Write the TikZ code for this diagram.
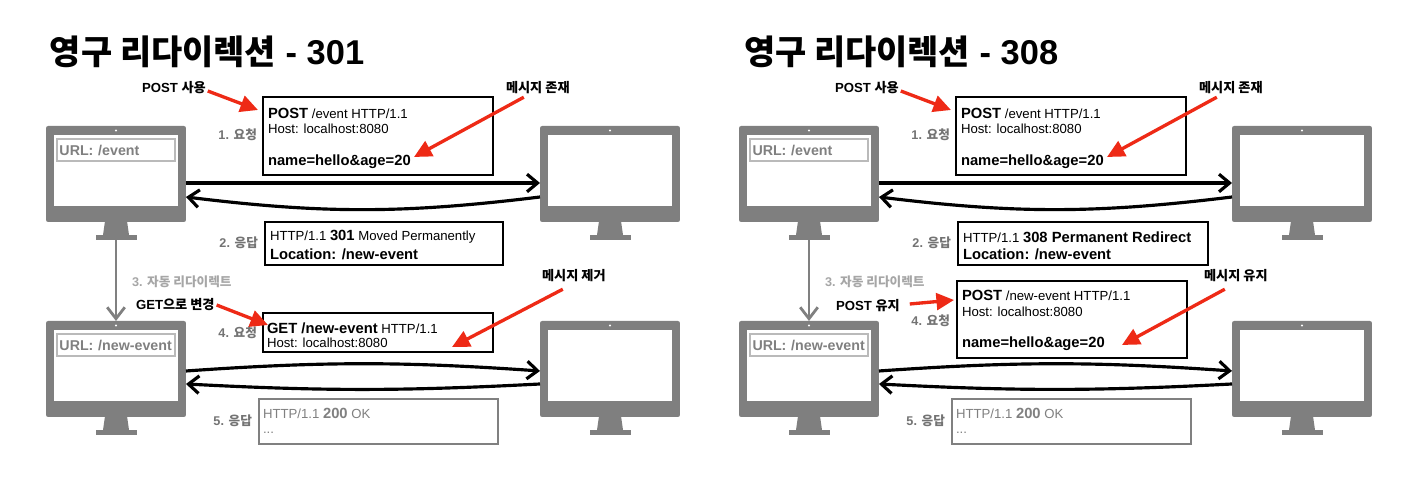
\documentclass[tikz,border=0pt]{standalone}
\usepackage{fontspec}
\setmainfont{Liberation Sans}
\newfontfamily\kr{Noto Sans CJK KR}
\usetikzlibrary{arrows.meta, positioning}
\definecolor{monitorgray}{HTML}{7F7F7F}
\definecolor{arrowred}{HTML}{EE2A16}
\tikzset{
	x=0.02cm, y=-0.02cm, % one unit is one pixel of the reference
	every node/.style={inner sep=0pt, outer sep=0pt},
	title/.style={anchor=west, font=\bfseries\fontsize{19.6}{20}\selectfont},
	note/.style={font=\bfseries\fontsize{7.5}{8}\selectfont},
	steplabel/.style={font=\bfseries\fontsize{7.2}{8}\selectfont, text=black!55},
	msgbox/.style={draw=black, line width=1.5pt, fill=white, anchor=north west},
	graybox/.style={draw=black!50, line width=1.5pt, fill=white, anchor=north west},
	msgline/.style={anchor=west, font=\fontsize{7.5}{8}\selectfont},
	big/.style={font=\bfseries\fontsize{8.4}{9}\selectfont},
	flow/.style={-{Straight Barb[length=6pt,width=10pt,line width=1.8pt]}, line width=1.8pt, black},
	redarrow/.style={-{Triangle[length=10pt,width=9.5pt]}, line width=1.9pt, arrowred},
	redirect/.style={-{Straight Barb[length=6.5pt,width=10pt,line width=1.6pt]}, line width=1.5pt, black!50},
	monitor/.pic={
		\fill[monitorgray] (-11,95) -- (11,95) -- (13,109) -- (-13,109) -- cycle;
		\fill[monitorgray] (-20.5,109) rectangle (20.5,114);
		\node[fill=monitorgray, rounded corners=1.2pt, minimum width=2.8cm, minimum height=1.92cm, anchor=north] (-body) at (0,0) {};
		\node[fill=white, minimum width=2.5cm, minimum height=1.42cm, anchor=north] (-screen) at (0,9) {};
		\fill[white] (0,4.5) circle (0.6pt);
	},
	urlbox/.style={draw=black!27, line width=0.9pt, fill=white, inner xsep=0.05cm, text width=2.26cm, minimum height=0.44cm,
		text=black!50, font=\bfseries\fontsize{8.1}{9}\selectfont, anchor=west, align=left},
}
\begin{document}
\begin{tikzpicture}
	\useasboundingbox (0,0) rectangle (1418,496);
	% left panel
	\node[title] (titleA) at (50,52) {{\kr\fontsize{19.3}{20}\selectfont 영구 리다이렉션} - 301};
	\pic (pcA) at (116,126) {monitor};
	\pic (srvA) at (610,126) {monitor};
	\pic (pcB) at (116,321) {monitor};
	\pic (srvB) at (610,321) {monitor};
	\node[urlbox] (urlA) at (57,150) {URL: /event};
	\node[urlbox] (urlB) at (57,345) {URL: /new-event};
	\node[msgbox, minimum width=4.6cm, minimum height=1.56cm] (reqA) at (263,97) {};
	\node[msgline] at (268,113) {\textbf{\fontsize{8.4}{9}\selectfont POST} /event HTTP/1.1};
	\node[msgline] at (268,129) {Host: localhost:8080};
	\node[msgline, big] at (268,162) {name=hello\&age=20};
	\node[msgbox, minimum width=4.76cm, minimum height=0.86cm] (resA) at (265,222) {};
	\node[msgline] at (270,237) {HTTP/1.1 \textbf{\fontsize{8.4}{9}\selectfont 301} Moved Permanently};
	\node[msgline, big] at (270,254) {Location: /new-event};
	\node[msgbox, minimum width=4.6cm, minimum height=0.78cm] (reqB) at (263,313) {};
	\node[msgline] at (267,328) {{\bfseries\fontsize{8.4}{9}\selectfont GET /new-event} HTTP/1.1};
	\node[msgline] at (267,343) {Host: localhost:8080};
	\node[graybox, minimum width=4.78cm, minimum height=0.9cm] (resB) at (259,399) {};
	\node[msgline, text=black!50] at (263,413) {HTTP/1.1 \textbf{\fontsize{8.4}{9}\selectfont 200} OK};
	\node[msgline, text=black!50] at (263,433) {...};
	\node[steplabel, anchor=east] at (257,135) {1. {\kr 요청}};
	\node[steplabel, anchor=east] at (258,243) {2. {\kr 응답}};
	\node[steplabel, anchor=west, text=black!35] at (132,282) {3. {\kr 자동 리다이렉트}};
	\node[steplabel, anchor=east] at (257,333) {4. {\kr 요청}};
	\node[steplabel, anchor=east] at (252,421) {5. {\kr 응답}};
	\node[note, anchor=west] (useA) at (142,88) {POST {\kr 사용}};
	\node[note, anchor=west] (keepA) at (506,88) {{\kr 메시지 존재}};
	\node[note, anchor=west] (getA) at (136,305) {GET{\kr 으로 변경}};
	\node[note, anchor=west] (dropA) at (542,276) {{\kr 메시지 제거}};
	\coordinate (useAend) at (258,110);
	\coordinate (keepAend) at (414,157);
	\coordinate (getAend) at (268,325);
	\coordinate (dropAend) at (452,347);
	\draw[flow] ([yshift=-0.18cm]pcA-body.east) -- ([yshift=-0.18cm]srvA-body.west);
	\draw[flow] ([yshift=-0.46cm]srvA-body.west) to[bend left=7] ([yshift=-0.46cm]pcA-body.east);
	\draw[flow] ([yshift=-0.04cm]pcB-body.east) to[bend left=4] ([yshift=-0.04cm]srvB-body.west);
	\draw[flow] ([yshift=-0.3cm]srvB-body.west) to[bend left=3] ([yshift=-0.3cm]pcB-body.east);
	\draw[redirect] (pcA-body.south |- 0,240) -- (pcB-body.north);
	\draw[redarrow] (useA.east) ++(2,3) -- (useAend);
	\draw[redarrow] (keepA.south) ++(-14,3) -- (keepAend);
	\draw[redarrow] (getA.east) ++(2,0) -- (getAend);
	\draw[redarrow] (dropA.south) ++(-11,7) -- (dropAend);
	% right panel
	\node[title] (titleC) at (744,52) {{\kr\fontsize{19.3}{20}\selectfont 영구 리다이렉션} - 308};
	\pic (pcC) at (809,126) {monitor};
	\pic (srvC) at (1302,126) {monitor};
	\pic (pcD) at (809,321) {monitor};
	\pic (srvD) at (1302,321) {monitor};
	\node[urlbox] (urlC) at (750,150) {URL: /event};
	\node[urlbox] (urlD) at (750,345) {URL: /new-event};
	\node[msgbox, minimum width=4.6cm, minimum height=1.56cm] (reqC) at (956,97) {};
	\node[msgline] at (961,113) {\textbf{\fontsize{8.4}{9}\selectfont POST} /event HTTP/1.1};
	\node[msgline] at (961,129) {Host: localhost:8080};
	\node[msgline, big] at (961,162) {name=hello\&age=20};
	\node[msgbox, minimum width=5cm, minimum height=0.86cm] (resC) at (958,222) {};
	\node[msgline] at (963,237) {HTTP/1.1 {\bfseries\fontsize{8.4}{9}\selectfont 308 Permanent Redirect}};
	\node[msgline, big] at (963,254) {Location: /new-event};
	\node[msgbox, minimum width=4.6cm, minimum height=1.54cm] (reqD) at (957,281) {};
	\node[msgline] at (962,295) {\textbf{\fontsize{8.4}{9}\selectfont POST} /new-event HTTP/1.1};
	\node[msgline] at (962,312) {Host: localhost:8080};
	\node[msgline, big] at (962,344) {name=hello\&age=20};
	\node[graybox, minimum width=4.78cm, minimum height=0.9cm] (resD) at (952,399) {};
	\node[msgline, text=black!50] at (956,413) {HTTP/1.1 \textbf{\fontsize{8.4}{9}\selectfont 200} OK};
	\node[msgline, text=black!50] at (956,433) {...};
	\node[steplabel, anchor=east] at (950,135) {1. {\kr 요청}};
	\node[steplabel, anchor=east] at (951,243) {2. {\kr 응답}};
	\node[steplabel, anchor=west, text=black!35] at (825,282) {3. {\kr 자동 리다이렉트}};
	\node[steplabel, anchor=east] at (950,321) {4. {\kr 요청}};
	\node[steplabel, anchor=east] at (945,421) {5. {\kr 응답}};
	\node[note, anchor=west] (useC) at (835,88) {POST {\kr 사용}};
	\node[note, anchor=west] (keepC) at (1199,88) {{\kr 메시지 존재}};
	\node[note, anchor=west] (postD) at (836,306) {POST {\kr 유지}};
	\node[note, anchor=west] (keepD) at (1204,276) {{\kr 메시지 유지}};
	\coordinate (useCend) at (951,110);
	\coordinate (keepCend) at (1107,157);
	\coordinate (postDend) at (954,300);
	\coordinate (keepDend) at (1122,345);
	\draw[flow] ([yshift=-0.18cm]pcC-body.east) -- ([yshift=-0.18cm]srvC-body.west);
	\draw[flow] ([yshift=-0.46cm]srvC-body.west) to[bend left=7] ([yshift=-0.46cm]pcC-body.east);
	\draw[flow] ([yshift=-0.04cm]pcD-body.east) to[bend left=4] ([yshift=-0.04cm]srvD-body.west);
	\draw[flow] ([yshift=-0.3cm]srvD-body.west) to[bend left=3] ([yshift=-0.3cm]pcD-body.east);
	\draw[redirect] (pcC-body.south |- 0,240) -- (pcD-body.north);
	\draw[redarrow] (useC.east) ++(2,3) -- (useCend);
	\draw[redarrow] (keepC.south) ++(-14,3) -- (keepCend);
	\draw[redarrow] (postD.east) ++(10,-2) -- (postDend);
	\draw[redarrow] (keepD.south) ++(-11,7) -- (keepDend);
\end{tikzpicture}
\end{document}
